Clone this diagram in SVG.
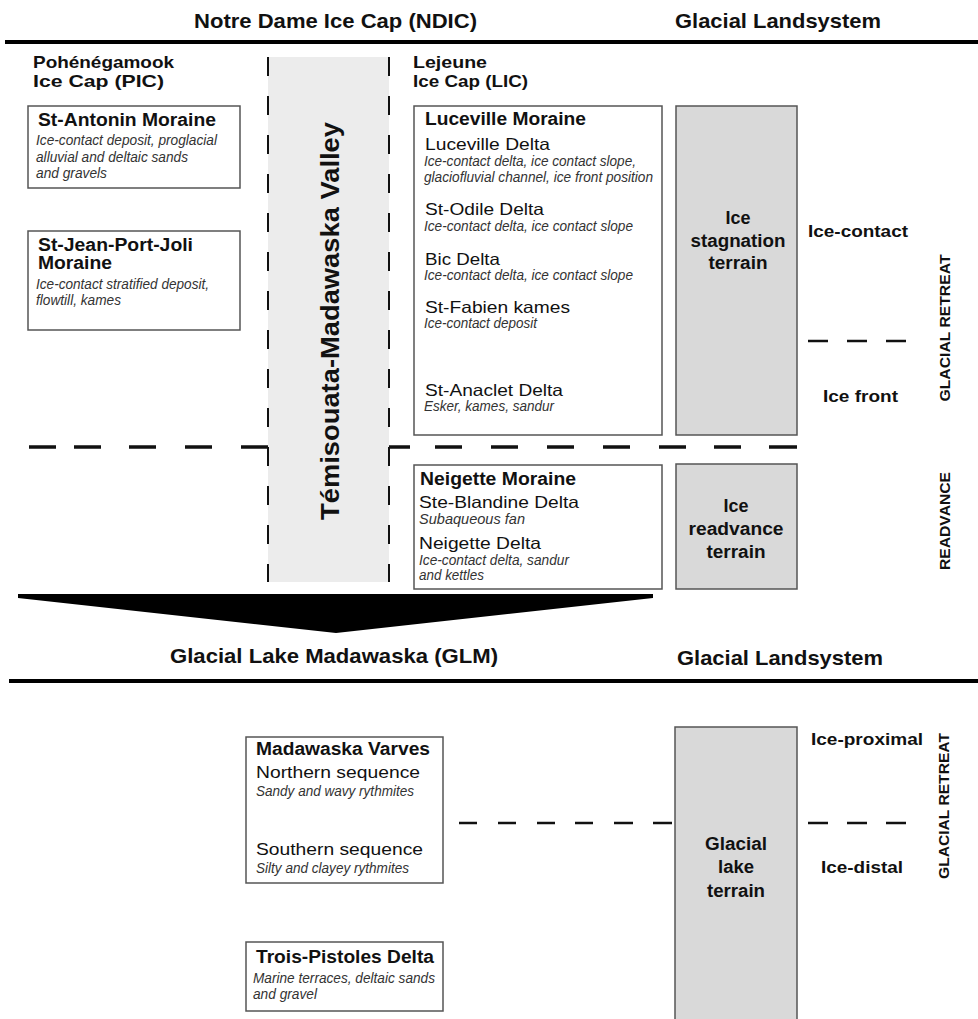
<svg xmlns="http://www.w3.org/2000/svg" width="978" height="1019" viewBox="0 0 978 1019">
<style>
text{font-family:"Liberation Sans",Arial,sans-serif;fill:#111}
.h{font-size:21px;font-weight:bold}
.cap{font-size:17px;font-weight:bold}
.t{font-size:17.5px;font-weight:bold}
.r{font-size:16.5px}
.i{font-size:14px;font-style:italic;fill:#333}
.terr{font-size:18px;font-weight:bold;text-anchor:middle}
.lab{font-size:17px;font-weight:bold}
.vert{font-size:15px;font-weight:bold;text-anchor:middle}
.box{fill:#fff;stroke:#555;stroke-width:1.5}
.gbox{fill:#d9d9d9;stroke:#555;stroke-width:1.5}
.dash{fill:none;stroke:#111;stroke-width:2.5}
.bigdash{fill:none;stroke:#111;stroke-width:3.5}
.vdash{fill:none;stroke:#111;stroke-width:2;stroke-dasharray:19 20}
.rule{stroke:#000;stroke-width:4}
</style>

<g id="headers">
<text class="h" x="194" y="28" textLength="283" lengthAdjust="spacingAndGlyphs">Notre Dame Ice Cap (NDIC)</text>
<text class="h" x="675" y="28" textLength="206" lengthAdjust="spacingAndGlyphs">Glacial Landsystem</text>
<line class="rule" x1="5" y1="42" x2="978" y2="42"/>
<text class="h" x="170" y="663" textLength="328" lengthAdjust="spacingAndGlyphs">Glacial Lake Madawaska (GLM)</text>
<text class="h" x="677" y="665" textLength="206" lengthAdjust="spacingAndGlyphs">Glacial Landsystem</text>
<line class="rule" x1="9" y1="681" x2="978" y2="681"/>
</g>

<g id="ice-caps">
<text class="cap" x="33" y="68" textLength="141" lengthAdjust="spacingAndGlyphs">Pohénégamook</text>
<text class="cap" x="33" y="87" textLength="131" lengthAdjust="spacingAndGlyphs">Ice Cap (PIC)</text>
<text class="cap" x="413" y="68" textLength="74" lengthAdjust="spacingAndGlyphs">Lejeune</text>
<text class="cap" x="413" y="87" textLength="115" lengthAdjust="spacingAndGlyphs">Ice Cap (LIC)</text>
</g>

<g id="valley">
<rect x="268" y="57" width="121" height="525" fill="#ececec"/>
<text font-size="25" font-weight="bold" text-anchor="middle" transform="translate(339,321) rotate(-90)" textLength="398" lengthAdjust="spacingAndGlyphs">Témisouata-Madawaska Valley</text>
</g>

<g id="connectors">
<line class="vdash" x1="268" y1="57" x2="268" y2="582"/>
<line class="vdash" x1="389" y1="57" x2="389" y2="582"/>
<path class="bigdash" d="M29,447H56 M74,447H101 M129,447H156 M185,447H212 M241,447H268 M389,447H410 M435,447H462 M491,447H518 M547,447H574 M603,447H630 M659,447H686 M714,447H741 M769,447H797"/>
<path class="dash" d="M808,341H828 M847,341H867 M886,341H906"/>
<path class="dash" d="M459,823H477 M498,823H516 M537,823H555 M575,823H593 M614,823H633 M653,823H672"/>
<path class="dash" d="M808,823H828 M847,823H867 M886,823H906"/>
<polygon points="18,594 653,594 653,598 336,633 18,598" fill="#000"/>
</g>

<g id="st-antonin">
<rect class="box" x="28" y="106" width="212" height="82"/>
<text class="t" x="38" y="126" textLength="178" lengthAdjust="spacingAndGlyphs">St-Antonin Moraine</text>
<text class="i" x="36" y="145" textLength="181" lengthAdjust="spacingAndGlyphs">Ice-contact deposit, proglacial</text>
<text class="i" x="36" y="162" textLength="152" lengthAdjust="spacingAndGlyphs">alluvial and deltaic sands</text>
<text class="i" x="36" y="178" textLength="71" lengthAdjust="spacingAndGlyphs">and gravels</text>
</g>

<g id="st-jean">
<rect class="box" x="28" y="231" width="212" height="99"/>
<text class="t" x="38" y="251" textLength="155" lengthAdjust="spacingAndGlyphs">St-Jean-Port-Joli</text>
<text class="t" x="38" y="269" textLength="74" lengthAdjust="spacingAndGlyphs">Moraine</text>
<text class="i" x="36" y="289" textLength="173" lengthAdjust="spacingAndGlyphs">Ice-contact stratified deposit,</text>
<text class="i" x="36" y="305" textLength="85" lengthAdjust="spacingAndGlyphs">flowtill, kames</text>
</g>

<g id="luceville">
<rect class="box" x="414" y="106" width="248" height="329"/>
<text class="t" x="425" y="125" textLength="161" lengthAdjust="spacingAndGlyphs">Luceville Moraine</text>
<text class="r" x="425" y="150" textLength="125" lengthAdjust="spacingAndGlyphs">Luceville Delta</text>
<text class="i" x="424" y="166" textLength="212" lengthAdjust="spacingAndGlyphs">Ice-contact delta, ice contact slope,</text>
<text class="i" x="424" y="182" textLength="229" lengthAdjust="spacingAndGlyphs">glaciofluvial channel, ice front position</text>
<text class="r" x="425" y="215" textLength="119" lengthAdjust="spacingAndGlyphs">St-Odile Delta</text>
<text class="i" x="424" y="231" textLength="209" lengthAdjust="spacingAndGlyphs">Ice-contact delta, ice contact slope</text>
<text class="r" x="425" y="265" textLength="75" lengthAdjust="spacingAndGlyphs">Bic Delta</text>
<text class="i" x="424" y="280" textLength="209" lengthAdjust="spacingAndGlyphs">Ice-contact delta, ice contact slope</text>
<text class="r" x="425" y="313" textLength="145" lengthAdjust="spacingAndGlyphs">St-Fabien kames</text>
<text class="i" x="424" y="328" textLength="113" lengthAdjust="spacingAndGlyphs">Ice-contact deposit</text>
<text class="r" x="425" y="396" textLength="138" lengthAdjust="spacingAndGlyphs">St-Anaclet Delta</text>
<text class="i" x="424" y="411" textLength="130" lengthAdjust="spacingAndGlyphs">Esker, kames, sandur</text>
</g>

<g id="stagnation">
<rect class="gbox" x="676" y="106" width="121" height="329"/>
<text class="terr" x="738" y="224" textLength="25" lengthAdjust="spacingAndGlyphs">Ice</text>
<text class="terr" x="738" y="247" textLength="95" lengthAdjust="spacingAndGlyphs">stagnation</text>
<text class="terr" x="738" y="269" textLength="59" lengthAdjust="spacingAndGlyphs">terrain</text>
</g>

<g id="neigette">
<rect class="box" x="414" y="465" width="248" height="124"/>
<text class="t" x="420" y="485" textLength="156" lengthAdjust="spacingAndGlyphs">Neigette Moraine</text>
<text class="r" x="419" y="508" textLength="160" lengthAdjust="spacingAndGlyphs">Ste-Blandine Delta</text>
<text class="i" x="419" y="524" textLength="106" lengthAdjust="spacingAndGlyphs">Subaqueous fan</text>
<text class="r" x="419" y="549" textLength="122" lengthAdjust="spacingAndGlyphs">Neigette Delta</text>
<text class="i" x="419" y="565" textLength="150" lengthAdjust="spacingAndGlyphs">Ice-contact delta, sandur</text>
<text class="i" x="419" y="580" textLength="65" lengthAdjust="spacingAndGlyphs">and kettles</text>
</g>

<g id="readvance">
<rect class="gbox" x="676" y="464" width="121" height="125"/>
<text class="terr" x="736" y="512" textLength="25" lengthAdjust="spacingAndGlyphs">Ice</text>
<text class="terr" x="736" y="535" textLength="95" lengthAdjust="spacingAndGlyphs">readvance</text>
<text class="terr" x="736" y="558" textLength="59" lengthAdjust="spacingAndGlyphs">terrain</text>
</g>

<g id="right-labels-top">
<text class="lab" x="808" y="237" textLength="100" lengthAdjust="spacingAndGlyphs">Ice-contact</text>
<text class="lab" x="823" y="402" textLength="75" lengthAdjust="spacingAndGlyphs">Ice front</text>
<text class="vert" transform="translate(950,328) rotate(-90)" textLength="147" lengthAdjust="spacingAndGlyphs">GLACIAL RETREAT</text>
<text class="vert" transform="translate(950,521) rotate(-90)" textLength="98" lengthAdjust="spacingAndGlyphs">READVANCE</text>
</g>

<g id="madawaska-varves">
<rect class="box" x="246" y="737" width="197" height="146"/>
<text class="t" x="256" y="755" textLength="174" lengthAdjust="spacingAndGlyphs">Madawaska Varves</text>
<text class="r" x="256" y="778" textLength="164" lengthAdjust="spacingAndGlyphs">Northern sequence</text>
<text class="i" x="256" y="796" textLength="158" lengthAdjust="spacingAndGlyphs">Sandy and wavy rythmites</text>
<text class="r" x="256" y="855" textLength="167" lengthAdjust="spacingAndGlyphs">Southern sequence</text>
<text class="i" x="256" y="873" textLength="153" lengthAdjust="spacingAndGlyphs">Silty and clayey rythmites</text>
</g>

<g id="trois-pistoles">
<rect class="box" x="246" y="942" width="197" height="69"/>
<text class="t" x="256" y="963" textLength="178" lengthAdjust="spacingAndGlyphs">Trois-Pistoles Delta</text>
<text class="i" x="253" y="983" textLength="182" lengthAdjust="spacingAndGlyphs">Marine terraces, deltaic sands</text>
<text class="i" x="253" y="999" textLength="64" lengthAdjust="spacingAndGlyphs">and gravel</text>
</g>

<g id="glacial-lake">
<rect class="gbox" x="675" y="727" width="122" height="310"/>
<text class="terr" x="736" y="850" textLength="62" lengthAdjust="spacingAndGlyphs">Glacial</text>
<text class="terr" x="736" y="873" textLength="36" lengthAdjust="spacingAndGlyphs">lake</text>
<text class="terr" x="736" y="897" textLength="58" lengthAdjust="spacingAndGlyphs">terrain</text>
</g>

<g id="right-labels-bottom">
<text class="lab" x="811" y="745" textLength="112" lengthAdjust="spacingAndGlyphs">Ice-proximal</text>
<text class="lab" x="821" y="873" textLength="82" lengthAdjust="spacingAndGlyphs">Ice-distal</text>
<text class="vert" transform="translate(949,806) rotate(-90)" textLength="146" lengthAdjust="spacingAndGlyphs">GLACIAL RETREAT</text>
</g>
</svg>
